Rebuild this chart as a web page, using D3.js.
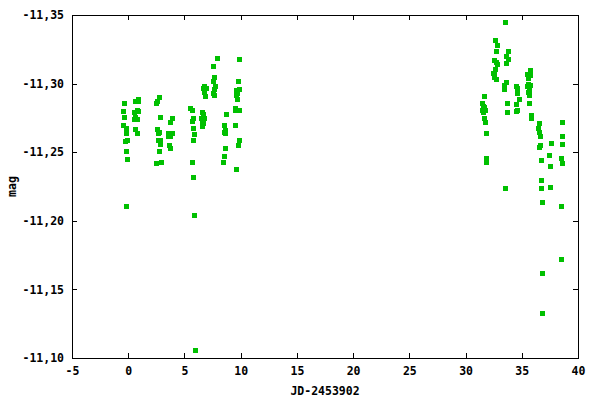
<!DOCTYPE html>
<html>
<head>
<meta charset="utf-8">
<script src="https://cdn.jsdelivr.net/npm/d3@7"></script>
<style>
  html, body { margin: 0; padding: 0; background: #fff; }
  svg { display: block; }
  text { font-family: "DejaVu Sans Mono", "Liberation Mono", monospace; font-weight: bold; font-size: 11.5px; fill: #000; }
</style>
</head>
<body>
<div id="chart"></div>
<script>
// JD - 2453902 (days)
const jd = [
  -0.36,-0.44,-0.36,-0.44,-0.18,-0.18,-0.27,-0.09,-0.18,-0.09,-0.18,
  0.62,0.89,0.89,0.80,0.53,0.89,0.62,0.53,0.80,0.62,0.80,
  2.49,2.58,2.76,2.84,2.58,2.76,2.67,2.67,2.84,2.84,2.76,2.49,2.93,
  3.91,3.73,3.56,3.82,3.91,3.56,3.73,3.64,3.73,
  5.51,5.69,5.69,5.78,5.78,5.87,5.78,5.69,5.78,5.87,5.96,
  6.67,6.76,6.93,6.76,6.84,6.58,6.67,6.49,6.76,6.58,6.67,6.58,
  7.91,7.56,7.64,7.56,7.73,7.64,7.56,7.64,
  8.71,8.53,8.53,8.62,8.62,8.62,8.53,8.44,
  9.87,9.78,9.60,9.87,9.69,9.60,9.69,9.51,9.51,9.87,9.51,9.87,9.78,9.60,
  31.64,31.47,31.56,31.64,31.47,31.73,31.56,31.64,31.73,31.82,31.82,31.82,
  32.62,32.80,32.71,32.53,32.71,32.80,32.62,32.53,32.44,32.53,32.71,
  33.51,33.78,33.60,33.78,33.60,33.60,33.42,33.42,33.69,33.69,33.51,
  34.49,34.58,34.58,34.76,34.49,34.49,34.58,
  35.73,35.47,35.73,35.56,35.56,35.73,35.47,35.64,35.56,35.64,35.64,35.82,35.82,
  36.53,36.44,36.53,36.62,36.62,36.53,36.71,36.71,36.71,36.80,36.80,36.80,
  37.60,37.42,37.51,37.51,
  38.58,38.58,38.58,38.49,38.58,38.49,38.49
];
// magnitude
const mag = [
  -11.286,-11.280,-11.276,-11.270,-11.268,-11.264,-11.258,-11.259,-11.251,-11.245,-11.211,
  -11.287,-11.289,-11.287,-11.281,-11.279,-11.280,-11.276,-11.274,-11.274,-11.267,-11.264,
  -11.286,-11.287,-11.290,-11.276,-11.267,-11.265,-11.264,-11.259,-11.259,-11.256,-11.251,-11.242,-11.243,
  -11.275,-11.272,-11.264,-11.264,-11.264,-11.262,-11.262,-11.255,-11.253,
  -11.282,-11.281,-11.273,-11.275,-11.268,-11.263,-11.259,-11.243,-11.232,-11.204,-11.106,
  -11.297,-11.298,-11.297,-11.294,-11.291,-11.279,-11.278,-11.275,-11.275,-11.273,-11.271,-11.269,
  -11.319,-11.313,-11.305,-11.302,-11.298,-11.296,-11.293,-11.292,
  -11.278,-11.270,-11.265,-11.266,-11.264,-11.253,-11.247,-11.243,
  -11.318,-11.302,-11.295,-11.296,-11.293,-11.292,-11.289,-11.282,-11.281,-11.281,-11.270,-11.259,-11.255,-11.238,
  -11.291,-11.286,-11.284,-11.283,-11.281,-11.281,-11.279,-11.275,-11.272,-11.264,-11.246,-11.243,
  -11.332,-11.328,-11.324,-11.317,-11.316,-11.314,-11.311,-11.308,-11.308,-11.305,-11.303,
  -11.345,-11.324,-11.320,-11.318,-11.315,-11.301,-11.299,-11.296,-11.286,-11.279,-11.224,
  -11.298,-11.297,-11.293,-11.289,-11.285,-11.280,-11.281,
  -11.310,-11.307,-11.306,-11.304,-11.300,-11.299,-11.298,-11.295,-11.294,-11.292,-11.286,-11.277,-11.275,
  -11.271,-11.268,-11.265,-11.262,-11.255,-11.254,-11.244,-11.230,-11.224,-11.214,-11.162,-11.133,
  -11.257,-11.248,-11.240,-11.225,
  -11.272,-11.262,-11.256,-11.246,-11.242,-11.211,-11.172
];
const xTicks = [-5, 0, 5, 10, 15, 20, 25, 30, 35, 40];
const yTicks = [-11.35, -11.30, -11.25, -11.20, -11.15, -11.10];
const xLabel = "JD-2453902";
const yLabel = "mag";

const W = 600, H = 400;
const m = { left: 72, right: 22, top: 15, bottom: 42 };
const x0 = m.left, x1 = W - m.right, y0 = m.top, y1 = H - m.bottom;

const svg = d3.select("#chart").append("svg").attr("width", W).attr("height", H);

const x = d3.scaleLinear().domain([-5, 40]).range([x0, x1]);
const y = d3.scaleLinear().domain([-11.35, -11.10]).range([y0, y1]);

const fmtY = v => d3.format(".2f")(v).replace("−", "-").replace(".", ",");
const fmtX = v => d3.format("d")(v).replace("−", "-");

// bottom axis
const gx = svg.append("g").attr("transform", `translate(0,${y1})`)
  .call(d3.axisBottom(x).tickValues(xTicks).tickFormat(fmtX).tickSizeInner(-5).tickSizeOuter(0).tickPadding(9));
// top mirror
const gxt = svg.append("g").attr("transform", `translate(0,${y0})`)
  .call(d3.axisTop(x).tickValues(xTicks).tickFormat("").tickSizeInner(-5).tickSizeOuter(0));
// left axis
const gy = svg.append("g").attr("transform", `translate(${x0},0)`)
  .call(d3.axisLeft(y).tickValues(yTicks).tickFormat(fmtY).tickSizeInner(-5).tickSizeOuter(0).tickPadding(8));
// right mirror
const gyr = svg.append("g").attr("transform", `translate(${x1},0)`)
  .call(d3.axisRight(y).tickValues(yTicks).tickFormat("").tickSizeInner(-5).tickSizeOuter(0));

[gx, gxt, gy, gyr].forEach(g => {
  g.select(".domain").remove();
  g.selectAll("line").attr("stroke", "#000").attr("shape-rendering", "crispEdges");
  g.selectAll("text").attr("font-family", null).attr("font-size", null).attr("fill", "#000");
});

// frame
svg.append("rect")
  .attr("x", x0 + 0.5).attr("y", y0 + 0.5)
  .attr("width", x1 - x0).attr("height", y1 - y0)
  .attr("fill", "none").attr("stroke", "#000").attr("stroke-width", 1)
  .attr("shape-rendering", "crispEdges");

// points
const pts = jd.map((d, i) => ({ x: d, y: mag[i] }));
svg.append("g").selectAll("rect.pt").data(pts).enter().append("rect")
  .attr("class", "pt")
  .attr("x", d => Math.round(x(d.x)) - 2)
  .attr("y", d => Math.round(y(d.y)) - 2)
  .attr("width", 5).attr("height", 5)
  .attr("fill", "#00c000")
  .attr("shape-rendering", "crispEdges");

// axis labels
svg.append("text").attr("x", (x0 + x1) / 2).attr("y", 395)
  .attr("text-anchor", "middle").text(xLabel);
svg.append("text").attr("transform", `translate(16,${(y0 + y1) / 2}) rotate(-90)`)
  .attr("text-anchor", "middle").text(yLabel);
</script>
</body>
</html>
